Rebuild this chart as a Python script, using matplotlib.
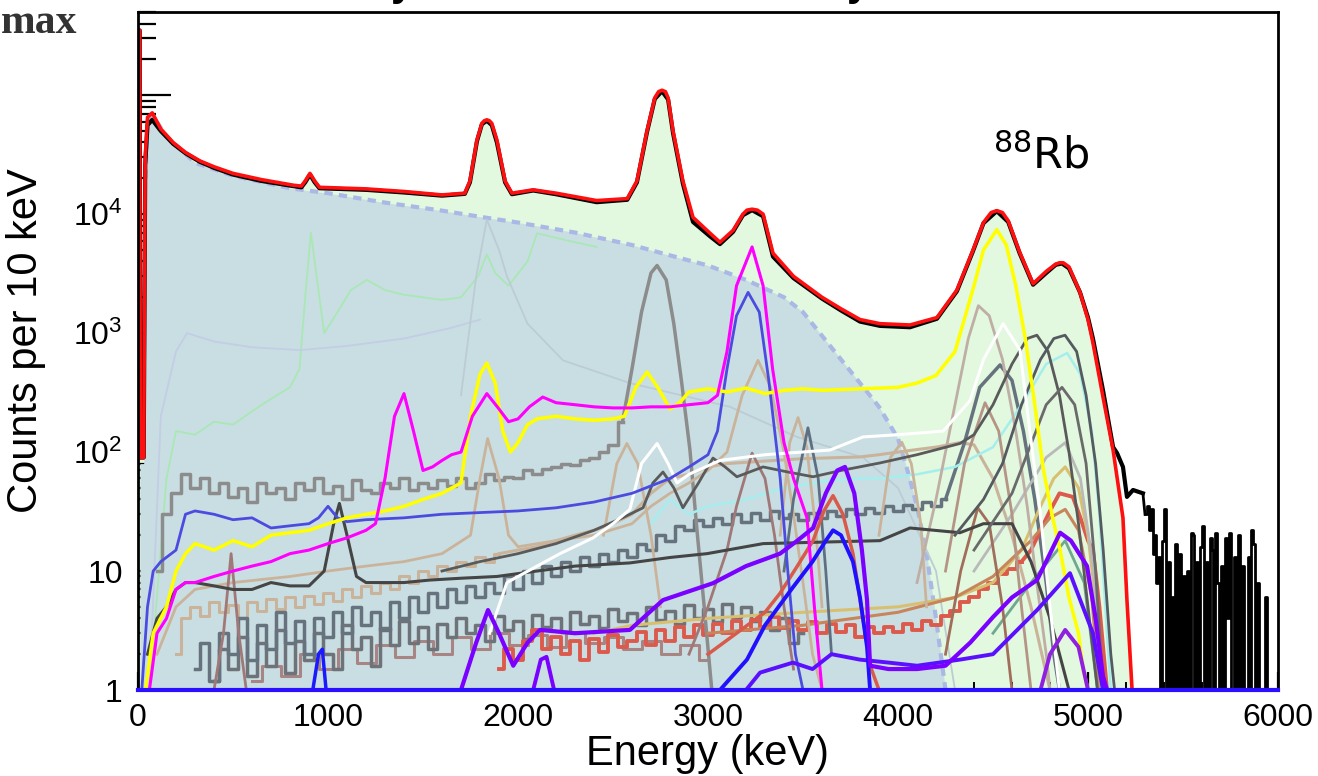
import numpy as np
import matplotlib
matplotlib.use('Agg')
import matplotlib.pyplot as plt

plt.rcParams['font.family'] = ['Liberation Sans', 'DejaVu Sans']
plt.rcParams['mathtext.fontset'] = 'custom'
plt.rcParams['mathtext.rm'] = 'Liberation Sans'

# ---- total fit (red) ----
e_fit = [2, 9, 12, 30, 38, 50, 75, 120, 185, 250, 326, 400, 500, 650, 817, 860, 880, 905, 930,
         955, 1100, 1200, 1400, 1600, 1720, 1747, 1784, 1810, 1823, 1836, 1849, 1862, 1889, 1932,
         1968, 2080, 2200, 2414, 2575, 2626, 2679, 2720, 2740, 2758, 2776, 2790, 2816, 2868, 2921,
         3011, 3063, 3132, 3184, 3205, 3232, 3260, 3290, 3342, 3450, 3600, 3700, 3800, 3905, 4063,
         4205, 4310, 4395, 4450, 4490, 4520, 4550, 4580, 4640, 4711, 4780, 4830, 4850, 4870, 4900,
         4958, 5000, 5026, 5079, 5132, 5184, 5205, 5232]
c_fit = [3.5e5, 3.5e5, 90, 90, 3e4, 6.5e4, 7.1e4, 5.2e4, 4.0e4, 3.3e4, 2.8e4, 2.5e4, 2.2e4, 1.95e4,
         1.75e4, 1.72e4, 1.9e4, 2.2e4, 1.9e4, 1.68e4, 1.65e4, 1.63e4, 1.55e4, 1.45e4, 1.5e4, 1.9e4,
         4.2e4, 5.8e4, 6.1e4, 6.2e4, 6.1e4, 5.8e4, 4.2e4, 1.9e4, 1.5e4, 1.6e4, 1.5e4, 1.3e4, 1.35e4,
         1.9e4, 5.0e4, 9.5e4, 1.07e5, 1.1e5, 1.07e5, 9.5e4, 5e4, 1.9e4, 9.4e3, 6.9e3, 5.8e3, 7.3e3,
         1.0e4, 1.08e4, 1.1e4, 1.08e4, 1.0e4, 4.7e3, 3.0e3, 2.0e3, 1.6e3, 1.3e3, 1.2e3, 1.17e3,
         1.35e3, 2.3e3, 5e3, 8.5e3, 1.03e4, 1.07e4, 1.03e4, 8.8e3, 4.8e3, 2.6e3, 3.3e3, 3.8e3,
         3.9e3, 3.9e3, 3.6e3, 2.2e3, 1.3e3, 830, 290, 104, 28, 5.7, 1]

# ---- measured spectrum (black) ----
e_data = [2, 9, 12, 30, 38, 50, 75, 120, 185, 250, 326, 400, 500, 650, 817, 860, 880, 905, 930,
          955, 1100, 1200, 1400, 1600, 1720, 1747, 1784, 1810, 1836, 1862, 1889, 1932, 1968, 2080,
          2200, 2414, 2575, 2626, 2679, 2720, 2758, 2790, 2816, 2868, 2921, 3011, 3063, 3132, 3184,
          3232, 3290, 3342, 3450, 3600, 3700, 3800, 3905, 4063, 4205, 4310, 4395, 4450, 4520, 4580,
          4640, 4711, 4780, 4830, 4863, 4900, 4958, 5000, 5026, 5079, 5132, 5153, 5184, 5205, 5237,
          5289]
c_data = [3.5e5, 3.5e5, 90, 90, 2.6e4, 5.6e4, 6.2e4, 5.0e4, 3.9e4, 3.25e4, 2.75e4, 2.45e4, 2.15e4,
          1.9e4, 1.72e4, 1.68e4, 1.85e4, 2.15e4, 1.85e4, 1.65e4, 1.62e4, 1.6e4, 1.52e4, 1.43e4,
          1.48e4, 1.85e4, 4.1e4, 5.7e4, 6.1e4, 5.6e4, 4.0e4, 1.85e4, 1.47e4, 1.58e4, 1.47e4, 1.26e4,
          1.32e4, 1.85e4, 4.9e4, 9.3e4, 1.08e5, 9.2e4, 4.8e4, 1.8e4, 8.6e3, 6.5e3, 5.6e3, 7.1e3,
          9.8e3, 1.08e4, 9.6e3, 4.4e3, 2.9e3, 1.95e3, 1.55e3, 1.25e3, 1.15e3, 1.12e3, 1.32e3, 2.25e3,
          4.9e3, 8.4e3, 1.06e4, 8.6e3, 4.7e3, 2.55e3, 3.2e3, 3.75e3, 3.85e3, 3.5e3, 2.2e3, 1.35e3,
          900, 330, 110, 98, 75, 42, 48, 45]
e_tail = list(range(5300, 6000, 10))
c_tail = [30, 35, 22, 33, 14, 20, 8, 13, 0.5, 18, 33, 0.5, 12, 0.5, 6, 0.5, 17, 0.5, 14, 0.5,
          9, 0.5, 10, 0.5, 21, 20, 0.5, 12, 0.5, 16, 24, 0.5, 12, 0.5, 19, 15, 0.5, 21, 8, 0.5,
          11, 0.5, 19, 4, 21, 0.5, 0.5, 13, 0.5, 20, 0.5, 11, 0.5, 0.5, 13, 0.5, 22, 17, 0.5, 8,
          0.5, 0.5, 0.5, 6, 0.5, 0.5, 0.5, 0.5, 0.5, 0.5]

# ---- continuum (blue shaded) ----
e_cont = [10, 30, 40, 50, 75, 150, 300, 500, 800, 1000, 1300, 1600, 1800, 2000, 2300, 2600, 2800,
          3000, 3200, 3400, 3500, 3600, 3700, 3800, 3900, 4000, 4050, 4100, 4150, 4200, 4250]
c_cont = [80, 80, 2e4, 6e4, 6.8e4, 4.5e4, 2.7e4, 2.1e4, 1.65e4, 1.5e4, 1.25e4, 1.07e4, 9.5e3, 8.5e3,
          7e3, 5.5e3, 4.5e3, 3.7e3, 2.8e3, 2.0e3, 1.5e3, 950, 600, 380, 240, 130, 70, 35, 14, 4, 1]

# ---- individual components ----
e_faint_green = [60, 150, 200, 300, 400, 500, 600, 700, 800, 850, 880, 910, 940, 980, 1050, 1120,
                 1205, 1300, 1400, 1500, 1600, 1700, 1790, 1836, 1880, 1950, 2050, 2100, 2300, 2414]
c_faint_green = [1, 60, 150, 140, 180, 170, 220, 280, 350, 500, 2000, 7000, 3000, 1000, 1500, 2300,
                 2800, 2300, 2100, 2000, 1900, 2000, 3000, 4600, 3200, 2500, 4000, 6900, 5800, 5300]
e_faint_lav = [60, 120, 200, 258, 400, 600, 853, 1100, 1400, 1642, 1800]
c_faint_lav = [1, 200, 700, 1000, 850, 760, 720, 780, 900, 1100, 1300]
e_faint_grey = [1700, 1780, 1836, 1900, 1942, 2050, 2237, 2589, 3116, 3468, 3816, 4000, 4200, 4300]
c_faint_grey = [300, 3000, 9000, 5000, 3000, 1200, 590, 380, 240, 134, 90, 50, 10, 1]

e_yellow = [40, 80, 150, 200, 250, 300, 400, 500, 600, 700, 800, 900, 1000, 1100, 1200, 1300, 1400,
            1500, 1600, 1700, 1750, 1800, 1836, 1880, 1920, 1960, 2000, 2050, 2100, 2200, 2300, 2400,
            2500, 2560, 2620, 2680, 2740, 2800, 2850, 2900, 3000, 3100, 3200, 3300, 3400, 3500, 3600,
            3800, 4000, 4100, 4200, 4300, 4400, 4450, 4520, 4570, 4620, 4670, 4720, 4763, 4810, 4853,
            4900, 4950, 4974, 5000]
c_yellow = [1, 3, 5, 10, 14, 17, 15, 18, 16, 20, 21, 22, 25, 28, 30, 32, 35, 40, 45, 55, 200, 450,
            560, 380, 150, 100, 120, 170, 190, 200, 190, 185, 190, 200, 350, 470, 340, 230, 260, 320,
            340, 320, 345, 310, 330, 340, 330, 340, 350, 380, 440, 700, 2500, 5000, 7400, 5500, 2500,
            900, 250, 75, 30, 15, 6, 3, 1.5, 1]

e_magenta = [60, 100, 150, 200, 250, 300, 400, 500, 600, 700, 800, 900, 1000, 1100, 1200, 1250, 1300,
             1350, 1400, 1450, 1500, 1550, 1600, 1650, 1700, 1760, 1836, 1900, 1950, 2000, 2060, 2130,
             2200, 2300, 2400, 2500, 2600, 2700, 2800, 2900, 3000, 3050, 3100, 3150, 3232, 3290, 3340,
             3400, 3450, 3521, 3560, 3600]
c_magenta = [1, 3, 4, 7, 8, 8, 9, 10, 11, 12, 14, 15, 17, 19, 22, 25, 60, 200, 310, 150, 70, 75, 85,
             95, 100, 200, 310, 230, 180, 190, 240, 290, 260, 250, 240, 235, 235, 240, 240, 250, 260,
             300, 700, 2500, 5300, 2500, 500, 120, 60, 28, 5, 1]

e_blue = [20, 50, 80, 120, 200, 250, 300, 400, 500, 600, 700, 800, 900, 950, 1000, 1050, 1100, 1200,
          1400, 1600, 1800, 2000, 2200, 2400, 2600, 2800, 2900, 3000, 3050, 3100, 3150, 3211, 3270,
          3320, 3380, 3420, 3460, 3500]
c_blue = [1, 5, 10, 12, 15, 30, 32, 30, 27, 28, 23, 24, 25, 28, 35, 28, 26, 27, 28, 30, 31, 32, 34,
          38, 45, 60, 75, 95, 150, 500, 1400, 2200, 1500, 400, 60, 10, 2, 1]

e_grey = list(range(100, 2700, 50)) + [2700, 2732, 2780, 2820, 2860, 2905, 2942, 2980, 3020]
c_grey = [10, 30, 45, 65, 50, 60, 45, 55, 42, 50, 38, 55, 45, 50, 40, 55, 48, 60, 45, 52, 40, 58, 48,
          45, 55, 50, 60, 48, 55, 50, 58, 52, 60, 50, 55, 65, 58, 62, 60, 70, 65, 72, 75, 80, 78, 85,
          90, 100, 115, 180, 500, 1500, 3200, 3700, 2800, 1200, 400, 104, 22, 5, 1]

e_tan_a = [100, 200, 300, 500, 800, 1000, 1200, 1400, 1600, 1750, 1800, 1840, 1900, 1950, 2000,
           2200, 2400, 2600, 2700, 2800, 2900, 3000, 3100, 3180, 3263, 3330, 3400, 3450, 3500, 3550,
           3600]
c_tan_a = [2, 5, 7, 8, 9, 10, 11, 12, 14, 20, 60, 130, 60, 20, 16, 18, 20, 25, 35, 45, 55, 70, 100,
           300, 590, 350, 100, 30, 8, 2, 1]
e_tan_b = [2450, 2520, 2573, 2630, 2700, 2750]
c_tan_b = [20, 80, 118, 80, 20, 5]
e_tan_c = [3380, 3430, 3474, 3520, 3570, 3600]
c_tan_c = [20, 120, 195, 110, 20, 5]
e_tan_d = [3900, 3960, 4020, 4070, 4120, 4150]
c_tan_d = [20, 90, 121, 80, 25, 5]
e_tan_big = [4100, 4200, 4300, 4370, 4423, 4480, 4550, 4620, 4680, 4730, 4780, 4800]
c_tan_big = [8, 40, 250, 900, 1700, 1400, 600, 150, 35, 8, 2, 1]
e_tan_n = [200, 250, 300, 350, 400, 450, 500, 550, 600, 650, 700, 750, 800, 850, 900, 950, 1000,
           1050, 1100, 1150, 1200, 1250, 1300, 1350, 1400, 1450, 1500, 1550, 1600, 1650, 1700, 1750,
           1800, 1850, 1900, 2000, 2100, 2200, 2300, 2400, 2500, 2600, 2700, 2800, 2900, 3000, 3100,
           3200, 3300, 3400, 3500, 3600, 3700, 3800, 3900, 4000, 4100, 4200, 4326, 4400, 4500, 4600,
           4700, 4800]
c_tan_n = [2, 4, 5, 4.2, 5.5, 4.5, 5.2, 4, 5.5, 4.6, 5.8, 4.8, 6, 5, 6.2, 5.3, 6.5, 5.6, 7, 6, 7.5,
           6.5, 8, 7, 9, 8, 10, 9, 11, 10, 12, 11, 13, 12, 14, 15, 16, 18, 20, 22, 25, 30, 45, 60,
           65, 75, 80, 82, 84, 86, 88, 89, 90, 91, 95, 100, 105, 110, 120, 115, 60, 20, 5, 1]

e_white = [1850, 1942, 2100, 2221, 2395, 2500, 2589, 2650, 2732, 2790, 2837, 2900, 3063, 3300, 3642,
           3816, 4000, 4237, 4379, 4450, 4553, 4642, 4695, 4750, 4800, 4850]
c_white = [3, 8, 11, 14, 19, 25, 33, 80, 118, 80, 55, 65, 85, 95, 104, 134, 140, 150, 270, 600, 1200,
           720, 145, 30, 5, 1]

e_dark_a = [50, 100, 150, 200, 250, 300, 400, 500, 600, 700, 800, 900, 980, 1030, 1060, 1100, 1150,
            1200, 1400, 1537, 1700, 1889, 2100, 2300, 2589, 2800, 2995, 3290, 3600, 3905, 4063, 4326,
            4450, 4600, 4700, 4800, 4900]
c_dark_a = [2, 4, 5, 7, 8, 8, 7.5, 7, 7, 8, 7.5, 7.5, 10, 25, 37, 20, 9, 8, 8, 8.4, 8.7, 9, 10, 11,
            11.7, 13, 14, 17, 17.5, 18, 23, 21, 25, 25, 12, 4, 1]
e_dark_b = [1600, 1800, 2000, 2200, 2400, 2550, 2658, 2710, 2763, 2820, 2868, 2950, 3026, 3090, 3152,
            3290, 3420, 3553, 3700, 3905, 4100, 4326, 4400, 4500, 4600, 4680, 4731, 4790, 4850, 4900,
            4950, 5000, 5050]
c_dark_b = [10, 12, 14, 17, 22, 28, 34, 55, 68, 50, 34, 55, 89, 75, 62, 75, 68, 62, 70, 81, 95, 118,
            140, 250, 550, 900, 960, 700, 300, 100, 25, 5, 1]
e_dark_c = [4300, 4450, 4550, 4650, 4750, 4820, 4879, 4940, 4990, 5040, 5080, 5120, 5140]
c_dark_c = [20, 40, 80, 250, 600, 900, 960, 700, 300, 80, 15, 2, 1]
e_grey_g = [4400, 4600, 4780, 4863, 4930, 4990, 5040, 5080]
c_grey_g = [15, 45, 250, 350, 250, 80, 10, 1]
e_light_grey = [4400, 4600, 4780, 4880, 4960, 5030, 5070]
c_light_grey = [10, 30, 90, 120, 60, 10, 1]

e_slate = list(range(300, 4300, 50)) + [4350, 4430, 4537, 4600, 4660, 4720, 4780, 4820, 4850]
c_slate = [1.5, 2.5, 1.2, 3, 2, 4, 1.8, 3.5, 2.2, 4.5, 2.5, 3.8, 2, 4, 2.8, 4.5, 3, 5, 3.5, 4.5,
           3.2, 5.5, 4, 6, 4.5, 6.5, 5, 7, 5.5, 7.5, 6, 8, 6.5, 9, 7, 10, 8, 11, 9, 12, 10, 13, 11,
           14, 12, 15, 13, 17, 15, 20, 18, 24, 22, 27, 24, 28, 25, 30, 26, 31, 27, 32, 28, 30, 27,
           31, 28, 32, 29, 33, 30, 34, 31, 35, 32, 36, 33, 38, 35, 40,
           120, 350, 540, 400, 150, 40, 8, 2, 1]
e_slate_g = [3400, 3450, 3526, 3580, 3620, 3650]
c_slate_g = [10, 40, 160, 60, 10, 2]

e_grey_n = list(range(400, 3550, 50))
c_grey_n = [1.2, 2.2, 1.5, 2.8, 1.3, 2.5, 1.6, 3.2, 1.4, 2.6, 1.8, 3, 2, 1.5, 3.5, 2.2, 2.8, 1.6,
            3.3, 2.4, 3.8, 2.5, 3.4, 2.2, 3.6, 2.8, 4, 3, 3.5, 2.6, 4.2, 3.2, 3.8, 2.7, 4.3, 3.4, 4,
            3.1, 4.5, 3.6, 4.2, 3.3, 4.8, 3.8, 4.4, 3.5, 5, 3.9, 4.6, 3.6, 5.2, 4, 4.8, 3.7, 5.3,
            4.1, 5, 3.8, 4.5, 3.2, 4, 2.5, 3]
e_rosy_n = list(range(600, 3100, 100))
c_rosy_n = [1.2, 1.6, 1.3, 2.0, 1.5, 2.2, 1.7, 2.4, 1.9, 2.6, 2.0, 2.8, 2.2, 3.0, 2.4, 2.9, 2.3,
            3.1, 2.5, 2.8, 2.2, 2.6, 2.0, 2.4, 1.8]
e_rosy_a = [2900, 3000, 3100, 3150, 3232, 3300, 3350, 3400, 3450]
c_rosy_a = [2, 5, 15, 35, 98, 60, 20, 5, 1.5]
e_rosy_b = [400, 450, 490, 530, 570]
c_rosy_b = [1, 3, 14, 3, 1]
e_brown_a = [4250, 4330, 4420, 4480, 4550, 4600]
c_brown_a = [2, 10, 34, 25, 5, 1]
e_brown_b = [4250, 4350, 4458, 4530, 4600, 4650, 4700]
c_brown_b = [10, 80, 260, 150, 30, 5, 1]

e_cyan = [2700, 2800, 2900, 3000, 3200, 3400, 3642, 3800, 3905, 4100, 4300, 4500, 4650, 4780, 4890,
          4960, 5020, 5060, 5100, 5120]
c_cyan = [25, 40, 30, 35, 40, 50, 58, 60, 60, 65, 75, 110, 250, 550, 680, 450, 150, 30, 3, 1]

e_red_n = list(range(1900, 4900, 50)) + [4920, 4960, 5000, 5026, 5060, 5100]
c_red_n = [1.5, 2.2, 1.8, 2.6, 3.2, 2.2, 2.8, 2.0, 2.6, 1.8, 2.7, 2.1, 2.9, 2.3, 2.6, 3.1, 2.4, 3.2,
           2.6, 3.4, 2.8, 3.5, 2.9, 3.6, 3.0, 3.8, 3.2, 3.9, 3.4, 4.1, 3.3, 3.8, 3.2, 3.7, 3.0, 3.6,
           3.1, 3.5, 2.8, 3.4, 3.0, 3.4, 3.1, 3.6, 3.2, 3.8, 3.5, 4.2, 4.6, 5.5, 6.0, 7.0, 8.0, 9.5,
           10.5, 12, 15, 22, 32, 45, 42, 28, 18, 15, 5, 1]
e_red_g = [3000, 3150, 3300, 3379, 3470, 3553, 3610, 3658, 3710, 3763, 3816, 3860, 3900]
c_red_g = [2, 3, 4.5, 6.5, 11, 18, 32, 43, 30, 14, 3.9, 1.5, 1]

e_khaki = [2400, 2600, 3000, 3500, 4000, 4300, 4500, 4650, 4750, 4820, 4880, 4950, 5000, 5050, 5080]
c_khaki = [3, 3.5, 4, 4.5, 5, 6, 8, 15, 35, 60, 75, 50, 20, 4, 1]
e_salmon = [3000, 3500, 4000, 4300, 4500, 4700, 4800, 4880, 4950, 5020, 5060]
c_salmon = [3, 3.5, 4.5, 6, 9, 18, 28, 33, 22, 6, 1]
e_seagreen = [4500, 4700, 4880, 4980, 5050]
c_seagreen = [3, 8, 18, 8, 1]

e_violet_a = [1700, 1780, 1842, 1900, 1975, 2050, 2116, 2300, 2589, 2763, 3026, 3200, 3379, 3470,
              3553, 3620, 3680, 3721, 3770, 3810, 3837, 3853, 3950, 4100, 4250, 4380, 4500, 4600,
              4732, 4800, 4853, 4910, 4995, 5040, 5079, 5100]
c_violet_a = [1, 2.5, 4.7, 3, 1.6, 2.5, 3.2, 3.0, 3.2, 5.7, 7.9, 11, 14, 18, 23, 45, 70, 75, 45, 15,
              5.7, 1.6, 1.5, 1.5, 1.6, 2.5, 4.1, 6, 8.4, 14, 21, 18, 11, 4, 1.3, 1]
e_blue_b = [3063, 3205, 3300, 3447, 3550, 3620, 3658, 3700, 3763, 3800, 3837, 3853]
c_blue_b = [1, 1.8, 3.5, 7.3, 12, 18, 22, 20, 12, 6, 2.3, 1]
e_violet_c = [3200, 3274, 3447, 3550, 3650, 3800, 3950, 4100, 4326, 4500, 4732, 4905, 5026, 5079]
c_violet_c = [1, 1.4, 1.7, 1.5, 2, 1.8, 1.7, 1.6, 1.8, 2, 4.7, 9.6, 3, 1]
e_violet_e = [4750, 4800, 4880, 4950, 5000]
c_violet_e = [1, 2, 3.2, 2.3, 1]
e_violet_g = [2080, 2120, 2150, 2190]
c_violet_g = [1, 1.8, 1.9, 1]
e_blue_f = [920, 950, 970, 990]
c_blue_f = [1, 2, 2.2, 1]

# x / y axis ticks
x_ticks = [0, 1000, 2000, 3000, 4000, 5000, 6000]
y_ticks = [1, 10, 100, 1000, 1e4, 1e5]
y_labels = ['1', '10', r'$\mathregular{10^{2}}$', r'$\mathregular{10^{3}}$',
            r'$\mathregular{10^{4}}$', '']

fig = plt.figure(figsize=(13.18, 7.76), dpi=100)
ax = fig.add_axes([138 / 1318, 1 - 690 / 776, 1140 / 1318, 678 / 776])
ax.set_yscale('log')

# shaded areas
ax.fill_between(e_fit, c_fit, 0.5, color='#e2f8df', lw=0, zorder=1)
ax.fill_between(e_cont, c_cont, 0.5, color='#c9dee2', lw=0, zorder=2)
ax.plot(e_cont[2:], c_cont[2:], color='#aab8e6', lw=3, ls=(0, (2, 1.5)), zorder=2.5)


def draw(e, c, color, lw=2.0, steps=False, z=3, n_noisy=None):
    # n_noisy: number of leading points drawn as a histogram, the rest as a smooth line
    if n_noisy is None:
        ax.plot(e, c, color=color, lw=lw, zorder=z,
                drawstyle='steps-mid' if steps else 'default')
    else:
        ax.plot(e[:n_noisy], c[:n_noisy], color=color, lw=lw, zorder=z, drawstyle='steps-mid')
        ax.plot(e[n_noisy - 1:], c[n_noisy - 1:], color=color, lw=lw, zorder=z)


# faint components inside the shaded area
draw(e_faint_green, c_faint_green, '#a9e8b4', 1.3, z=2.6)
draw(e_faint_lav, c_faint_lav, '#c3cde6', 1.3, z=2.6)
draw(e_faint_grey, c_faint_grey, '#bcccd4', 1.3, z=2.6)

# noisy low-level components
draw(e_rosy_n, c_rosy_n, '#a88585', 2.2, steps=True)
draw(e_grey_n, c_grey_n, '#6e737a', 2.5, steps=True)
draw(e_tan_n, c_tan_n, '#c9b49b', 2.2, n_noisy=35)
draw(e_slate, c_slate, '#66737e', 2.5, n_noisy=80)
draw(e_red_n, c_red_n, '#dc5a4c', 2.8, n_noisy=56)
draw(e_grey, c_grey, '#8c8c8c', 2.5, n_noisy=50)

# peaked components
draw(e_khaki, c_khaki, '#d8c070', 2.2)
draw(e_salmon, c_salmon, '#c8855c', 2.2)
draw(e_seagreen, c_seagreen, '#6fa890', 2.0)
draw(e_light_grey, c_light_grey, '#b9b9b9', 2.0)
draw(e_cyan, c_cyan, '#a6eeee', 1.8)
draw(e_tan_a, c_tan_a, '#c9b49b', 2.0)
draw(e_tan_b, c_tan_b, '#c9b49b', 2.0)
draw(e_tan_c, c_tan_c, '#c9b49b', 2.0)
draw(e_tan_d, c_tan_d, '#c9b49b', 2.0)
draw(e_tan_big, c_tan_big, '#bfaea4', 2.0)
draw(e_brown_a, c_brown_a, '#a06e5a', 2.0)
draw(e_brown_b, c_brown_b, '#b49585', 2.0)
draw(e_rosy_a, c_rosy_a, '#a07878', 2.0)
draw(e_rosy_b, c_rosy_b, '#a07878', 2.0)
draw(e_slate_g, c_slate_g, '#5d6f80', 2.0)
draw(e_dark_a, c_dark_a, '#454545', 2.2)
draw(e_dark_b, c_dark_b, '#5a5a5a', 2.0)
draw(e_dark_c, c_dark_c, '#555a60', 2.0)
draw(e_grey_g, c_grey_g, '#6a6a6a', 2.0)
draw(e_white, c_white, '#ffffff', 2.2)
draw(e_red_g, c_red_g, '#d85a4a', 2.5)
draw(e_blue, c_blue, '#4b4be0', 2.0)
draw(e_yellow, c_yellow, '#ffff00', 2.5)
draw(e_magenta, c_magenta, '#ff00ff', 2.2)
draw(e_violet_c, c_violet_c, '#5a10ff', 2.8)
draw(e_violet_e, c_violet_e, '#9020e0', 2.8)
draw(e_blue_b, c_blue_b, '#2010ff', 2.8)
draw(e_violet_a, c_violet_a, '#7a00ff', 3.0)
draw(e_violet_g, c_violet_g, '#7a00ff', 2.8)
draw(e_blue_f, c_blue_f, '#1a1aff', 2.5)

# data and total fit
ax.plot(e_data, c_data, color='black', lw=3.0, zorder=8)
ax.plot(e_tail, c_tail, color='black', lw=2.0, drawstyle='steps-post', zorder=8)
ax.plot([5289, 5300], [45, 30], color='black', lw=2.0, zorder=8)
ax.plot(e_fit, c_fit, color='#ff1010', lw=2.6, zorder=9)

ax.set_xlim(0, 6000)
ax.set_ylim(1, 5e5)

ax.set_xticks(x_ticks)
ax.set_xticks(np.arange(0, 6001, 200), minor=True)
ax.set_yticks(y_ticks)
ax.set_yticklabels(y_labels)
ax.tick_params(axis='both', which='both', direction='in', top=False, right=False, colors='black')
ax.tick_params(axis='y', which='major', length=24, width=1.6, labelsize=23, pad=11)
ax.tick_params(axis='y', which='minor', length=13, width=1.6)
ax.tick_params(axis='x', which='major', length=13, width=1.6, labelsize=23, pad=9)
ax.tick_params(axis='x', which='minor', length=6, width=1.4)

for s in ['left', 'top', 'right']:
    ax.spines[s].set_linewidth(2)
    ax.spines[s].set_zorder(10)
ax.spines['bottom'].set_color('#2a10ff')
ax.spines['bottom'].set_linewidth(3)
ax.spines['bottom'].set_zorder(10)

ax.set_xlabel('Energy (keV)', fontsize=30, labelpad=1)
ax.set_ylabel('Counts per 10 keV', fontsize=30)
ax.yaxis.set_label_coords(-0.081, 0.515)

ax.text(4500, 2.4e4, r'$\mathregular{^{88}}$Rb', fontsize=31, family='DejaVu Sans', va='baseline')

fig.text(1 / 1318, 1 - 33 / 776, 'max', fontsize=30, family='Liberation Serif', weight='bold',
         color='#333333', va='baseline', ha='left')
for xp in [402, 858]:
    fig.text(xp / 1318, 1 + 5 / 776, 'y', fontsize=30, weight='bold', va='baseline', ha='center')

fig.savefig('out.png', dpi=100)
